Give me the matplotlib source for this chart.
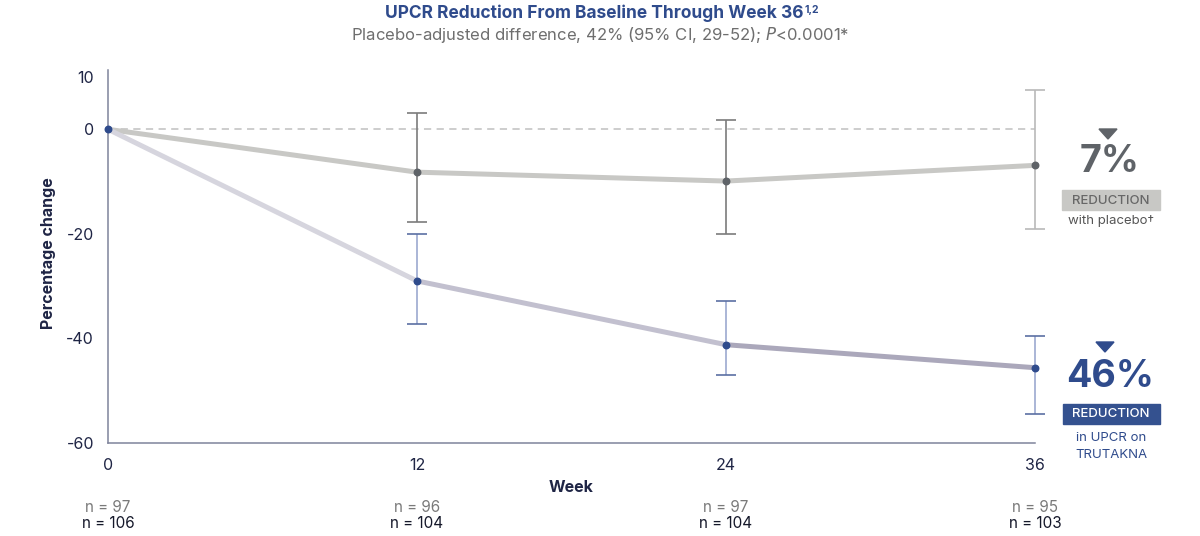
import matplotlib.pyplot as plt
from matplotlib.collections import LineCollection
import matplotlib.transforms as mtransforms

plt.rcParams['font.family'] = ['Inter', 'DejaVu Sans']

weeks = [0, 12, 24, 36]
placebo = [0, -8.2, -9.9, -6.9]
placebo_lo = [0, -17.7, -20.0, -19.1]
placebo_hi = [0, 3.2, 1.7, 7.6]
trutakna = [0, -29.0, -41.2, -45.6]
trutakna_lo = [0, -37.2, -46.9, -54.4]
trutakna_hi = [0, -20.0, -32.8, -39.5]
n_placebo = [97, 96, 97, 95]
n_trutakna = [106, 104, 104, 103]
yticks = [-60, -40, -20, 0, 10]

NAVY = '#2f4b8c'
DARK = '#1f2545'

fig = plt.figure(figsize=(12, 5.36), dpi=100)
ax = fig.add_axes([0.09, 0.1735, 0.7725, 0.6955])
ax.set_xlim(0, 36)
ax.set_ylim(-60, 11.3)

# zero reference line
ax.axhline(0, color='#c9c9c9', lw=1.3, ls=(0, (4, 3)), zorder=1)

# placebo line
ax.plot(weeks, placebo, color='#c8c8c5', lw=3.6, solid_capstyle='round', zorder=2)
# trutakna line, slightly darker toward the end
segs = [[(weeks[i], trutakna[i]), (weeks[i + 1], trutakna[i + 1])] for i in range(len(weeks) - 1)]
lc = LineCollection(segs, colors=['#d6d5de', '#c2c0cf', '#aba8bb'], linewidths=3.6,
                    capstyle='round', zorder=2)
ax.add_collection(lc)

# error bars
for i in range(1, len(weeks)):
    pc = '#7c7c7c' if i < 3 else '#b9b9b9'
    ax.vlines(weeks[i], placebo_lo[i], placebo_hi[i], color=pc, lw=1.2, zorder=3, clip_on=False)
    ax.hlines([placebo_lo[i], placebo_hi[i]], weeks[i] - 0.4, weeks[i] + 0.4, color=pc, lw=1.2,
              zorder=3, clip_on=False)
    ax.vlines(weeks[i], trutakna_lo[i], trutakna_hi[i], color='#aab6d6', lw=1.4, zorder=3, clip_on=False)
    ax.hlines([trutakna_lo[i], trutakna_hi[i]], weeks[i] - 0.4, weeks[i] + 0.4, color='#5b6fa3',
              lw=1.2, zorder=3, clip_on=False)

ax.scatter(weeks[1:], placebo[1:], s=22, color='#5f6368', zorder=4, clip_on=False)
ax.scatter(weeks, trutakna, s=22, color=NAVY, zorder=5, clip_on=False)

for s in ['top', 'right']:
    ax.spines[s].set_visible(False)
for s in ['left', 'bottom']:
    ax.spines[s].set_color('#7f849b')
    ax.spines[s].set_linewidth(1.1)

ax.set_yticks(yticks)
ax.set_yticklabels([str(v) for v in yticks])
ax.set_xticks(weeks)
ax.set_xticklabels([str(w) for w in weeks])
ax.tick_params(length=0, labelsize=11.5, labelcolor=DARK)
ax.tick_params(axis='y', pad=10)
ax.tick_params(axis='x', pad=11)
ax.set_xlabel('Week', fontsize=11.5, fontweight='bold', color=DARK, labelpad=5)
ax.set_ylabel('Percentage change', fontsize=11.5, fontweight='bold', color=DARK)
ax.yaxis.set_label_coords(-0.056, 0.51)

# n labels beneath x axis
trans = mtransforms.blended_transform_factory(ax.transData, fig.transFigure)
for w, a, b in zip(weeks, n_placebo, n_trutakna):
    fig.text(w, 1 - 507 / 536, f'n = {a}', transform=trans, ha='center', va='center',
             fontsize=11, color='#7a7a7a')
    fig.text(w, 1 - 524 / 536, f'n = {b}', transform=trans, ha='center', va='center',
             fontsize=11, color='#15182a')

# titles
title = fig.text(0.5 - 6 / 1200, 1 - 13 / 536, 'UPCR Reduction From Baseline Through Week 36',
                 ha='center', va='center', fontsize=12.5, fontweight='bold', color=NAVY)
fig.canvas.draw()
bb = title.get_window_extent().transformed(fig.transFigure.inverted())
fig.text(bb.x1 + 1 / 1200, bb.y1 - 1 / 536, '1,2', ha='left', va='top', fontsize=7.5,
         fontweight='bold', color=NAVY)
fig.text(0.5, 1 - 35 / 536, r'Placebo-adjusted difference, 42% (95% CI, 29-52); $\it{P}$<0.0001*',
         ha='center', va='center', fontsize=12, color='#6e6e6e')

# right-side callouts
def px(x, y):
    return x / 1200, 1 - y / 536

fig.patches.append(plt.Polygon([px(1099, 129), px(1117, 129), px(1108, 139)], closed=True,
                               transform=fig.transFigure, color='#5f6368'))
fig.text(*px(1110, 162), '7%', ha='center', va='center', fontsize=27, fontweight='bold', color='#5f6368')
fig.patches.append(plt.Rectangle(px(1062, 210), 98 / 1200, 20 / 536, transform=fig.transFigure,
                                 color='#c8c8c5'))
fig.text(*px(1111, 200.5), 'REDUCTION', ha='center', va='center',
         fontsize=9.5, color='#676767', fontweight='medium')
fig.text(*px(1111, 221), 'with placebo\u2020', ha='center', va='center', fontsize=9.5, color='#555555')

fig.patches.append(plt.Polygon([px(1096, 342), px(1114, 342), px(1105, 352)], closed=True,
                               transform=fig.transFigure, color=NAVY))
fig.text(*px(1110, 377), '46%', ha='center', va='center', fontsize=27, fontweight='bold', color=NAVY)
fig.patches.append(plt.Rectangle(px(1063, 424), 97 / 1200, 20 / 536, transform=fig.transFigure,
                                 color='#34518f'))
fig.text(*px(1111, 414), 'REDUCTION', ha='center', va='center',
         fontsize=9.5, color='white', fontweight='medium')
fig.text(*px(1111, 438), 'in UPCR on', ha='center', va='center', fontsize=9.5, color=NAVY)
fig.text(*px(1111, 455), 'TRUTAKNA', ha='center', va='center', fontsize=9.5, color=NAVY)

fig.savefig('out.png', dpi=100)
